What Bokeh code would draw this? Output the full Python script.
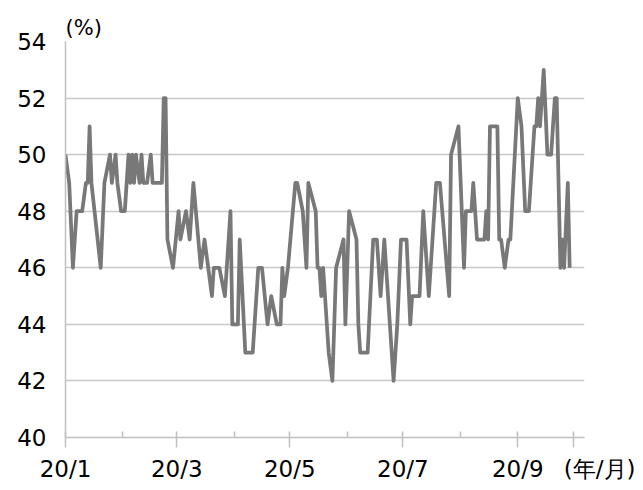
import pandas as pd
from bokeh.plotting import figure
from bokeh.models import Range1d, FixedTicker, Title
from bokeh.embed import file_html
from bokeh.resources import INLINE

# ---- data ----
dates = [
    "2020-01-01", "2020-01-03", "2020-01-05", "2020-01-07", "2020-01-10", "2020-01-12", "2020-01-13",
    "2020-01-14", "2020-01-15", "2020-01-20", "2020-01-22", "2020-01-25", "2020-01-26", "2020-01-28",
    "2020-01-29", "2020-01-31", "2020-02-02", "2020-02-04", "2020-02-05", "2020-02-06", "2020-02-07",
    "2020-02-08", "2020-02-10", "2020-02-11", "2020-02-12", "2020-02-14", "2020-02-16", "2020-02-17",
    "2020-02-22", "2020-02-23", "2020-02-24", "2020-02-25", "2020-02-28", "2020-03-02", "2020-03-03",
    "2020-03-06", "2020-03-08", "2020-03-10", "2020-03-14", "2020-03-16", "2020-03-20", "2020-03-21",
    "2020-03-24", "2020-03-27", "2020-03-30", "2020-03-31", "2020-04-03", "2020-04-04", "2020-04-07",
    "2020-04-11", "2020-04-14", "2020-04-16", "2020-04-19", "2020-04-21", "2020-04-24", "2020-04-26",
    "2020-04-27", "2020-04-28", "2020-04-30", "2020-05-04", "2020-05-05", "2020-05-08", "2020-05-10",
    "2020-05-11", "2020-05-15", "2020-05-16", "2020-05-17", "2020-05-18", "2020-05-19", "2020-05-22",
    "2020-05-24", "2020-05-26", "2020-05-30", "2020-05-31", "2020-06-02", "2020-06-06", "2020-06-07",
    "2020-06-08", "2020-06-12", "2020-06-15", "2020-06-17", "2020-06-19", "2020-06-21", "2020-06-26",
    "2020-06-28", "2020-06-30", "2020-07-03", "2020-07-05", "2020-07-06", "2020-07-10", "2020-07-12",
    "2020-07-15", "2020-07-19", "2020-07-21", "2020-07-26", "2020-07-27", "2020-07-31", "2020-08-03",
    "2020-08-04", "2020-08-07", "2020-08-08", "2020-08-10", "2020-08-14", "2020-08-15", "2020-08-16",
    "2020-08-17", "2020-08-21", "2020-08-22", "2020-08-23", "2020-08-25", "2020-08-27", "2020-08-28",
    "2020-09-01", "2020-09-03", "2020-09-05", "2020-09-07", "2020-09-10", "2020-09-11", "2020-09-12",
    "2020-09-13", "2020-09-15", "2020-09-17", "2020-09-19", "2020-09-21", "2020-09-22", "2020-09-24",
    "2020-09-25", "2020-09-26", "2020-09-28", "2020-09-29",
]
values = [
    50, 49, 46, 48, 48, 49, 49,
    51, 49, 46, 49, 50, 49, 50,
    49, 48, 48, 50, 49, 50, 49,
    50, 49, 50, 49, 49, 50, 49,
    49, 52, 52, 47, 46, 48, 47,
    48, 47, 49, 46, 47, 45, 46,
    46, 45, 48, 44, 44, 47, 43,
    43, 46, 46, 44, 45, 44, 44,
    46, 45, 46, 49, 49, 48, 46,
    49, 48, 46, 46, 45, 46, 43,
    42, 46, 47, 44, 48, 47, 44,
    43, 43, 47, 47, 45, 47, 42,
    44, 47, 47, 44, 45, 45, 48,
    45, 49, 49, 45, 50, 51, 46,
    48, 48, 49, 47, 47, 48, 47,
    51, 51, 47, 47, 46, 47, 47,
    52, 51, 48, 48, 51, 51, 52,
    51, 53, 50, 50, 52, 52, 46,
    47, 46, 49, 46,
]
major_months = ["2020-01-01", "2020-03-01", "2020-05-01", "2020-07-01", "2020-09-01"]
major_labels = ["20/1", "20/3", "20/5", "20/7", "20/9"]
minor_months = ["2020-02-01", "2020-04-01", "2020-06-01", "2020-08-01"]
unit_tick = "2020-10-01"
x_unit_label = "(年/月)"
y_unit_label = "(%)"
y_ticks = [40, 42, 44, 46, 48, 50, 52, 54]

FONT = "DejaVu Sans"
TXT = "#000000"
AXC = "#c0c0c0"

x = pd.to_datetime(dates)

def ms(d):
    return pd.Timestamp(d).value / 1e6

p = figure(
    width=635, height=482, frame_width=519, frame_height=396,
    x_axis_type="datetime", output_backend="svg", toolbar_location=None,
    min_border_left=65, min_border_right=51, min_border_top=41, min_border_bottom=45,
    x_range=Range1d(ms("2020-01-01"), ms("2020-10-07")),
    y_range=Range1d(40, 54),
)
p.outline_line_color = None
p.background_fill_color = "white"
p.border_fill_color = "white"

p.line(x, values, line_color="#787878", line_width=3.75, line_join="round")

# x axis (the unit label sits on the last tick, padded so it reads to the right)
major_ms = [ms(d) for d in major_months] + [ms(unit_tick)]
minor_ms = [ms(d) for d in minor_months]
overrides = {m: l for m, l in zip(major_ms, major_labels)}
overrides[ms(unit_tick)] = "\u00a0" * 8 + x_unit_label
p.xaxis.ticker = FixedTicker(ticks=major_ms, minor_ticks=minor_ms)
p.xaxis.major_label_overrides = overrides
p.xaxis.axis_line_color = AXC
p.xaxis.axis_line_width = 1.5
p.xaxis.major_tick_line_color = AXC
p.xaxis.major_tick_line_width = 1.5
p.xaxis.major_tick_in = 6
p.xaxis.major_tick_out = 10
p.xaxis.minor_tick_line_color = AXC
p.xaxis.minor_tick_line_width = 1.5
p.xaxis.minor_tick_in = 6
p.xaxis.minor_tick_out = 0
p.xaxis.major_label_standoff = 8
p.xaxis.major_label_text_font = FONT
p.xaxis.major_label_text_font_size = "23px"
p.xaxis.major_label_text_color = TXT
p.xgrid.grid_line_color = None

# y axis
p.yaxis.ticker = FixedTicker(ticks=y_ticks)
p.yaxis.axis_line_color = AXC
p.yaxis.axis_line_width = 1.5
p.yaxis.major_tick_line_color = None
p.yaxis.minor_tick_line_color = None
p.yaxis.major_tick_out = 0
p.yaxis.major_tick_in = 0
p.yaxis.major_label_standoff = 19
p.yaxis.major_label_text_font = FONT
p.yaxis.major_label_text_font_size = "23px"
p.yaxis.major_label_text_color = TXT
p.ygrid.grid_line_color = "#c8c8c8"
p.ygrid.grid_line_width = 1.5

p.add_layout(Title(text=y_unit_label, align="left", offset=0, standoff=4, text_font=FONT,
                   text_font_size="21px", text_color=TXT, text_font_style="normal"), "above")

open("out.html", "w").write(file_html(p, INLINE))
